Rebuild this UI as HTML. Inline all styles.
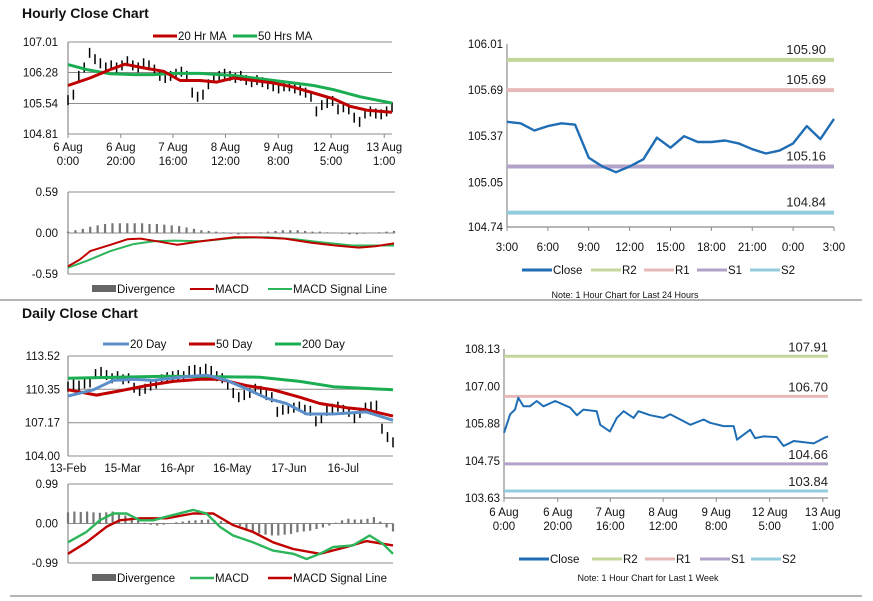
<!DOCTYPE html>
<html><head><meta charset="utf-8"><style>
html,body{margin:0;padding:0;background:#fff;}
svg{display:block;font-family:"Liberation Sans",Arial,sans-serif;}
</style></head><body>
<svg id="s" width="873" height="601" viewBox="0 0 873 601" xmlns="http://www.w3.org/2000/svg">
<text x="22" y="18" font-size="14" font-weight="bold" fill="#111">Hourly Close Chart</text>
<text x="22" y="318" font-size="14" font-weight="bold" fill="#111">Daily Close Chart</text>
<line x1="0" y1="300" x2="862" y2="300" stroke="#888" stroke-width="1.2"/>
<line x1="10" y1="596" x2="862" y2="596" stroke="#888" stroke-width="1.2"/>
</svg>
<script>
// ---------- DATA ----------
const hourlyCloses=[105.62,105.75,106.2,106.4,106.75,106.6,106.5,106.4,106.45,106.4,106.45,106.55,106.45,106.4,106.5,106.45,106.35,106.2,106.15,106.2,106.25,106.3,106.2,105.8,105.7,105.75,106.0,106.15,106.2,106.25,106.2,106.15,106.2,106.1,106.05,106.1,106.05,106.0,105.95,105.9,105.95,105.95,105.9,105.85,105.8,105.7,105.35,105.5,105.55,105.6,105.4,105.45,105.4,105.2,105.1,105.3,105.35,105.3,105.28,105.35,105.45];
const hourlyMA20T=[0,6.8,13,17.6,23.3,29.5,34.6,40.8,45.9,51.1,57.3,63.4,69.6,75.8,82,87.1,92.3,100];
const hourlyMA20V=[105.97,106.15,106.35,106.48,106.39,106.31,106.09,106.09,106.05,106.15,106.09,106.03,105.93,105.79,105.65,105.47,105.38,105.33];
const hourlyMA50T=[0,5.8,13,20.1,26.3,32.5,40.8,51.1,61.4,67.6,75.8,82,90.2,100];
const hourlyMA50V=[106.47,106.35,106.25,106.23,106.23,106.26,106.26,106.21,106.11,106.05,105.97,105.87,105.70,105.55];
const hourlyMacdT=[0,3.7,6.8,13,18.2,22.2,27.4,33.6,40.8,51.1,57.3,66.5,74.7,82,89.2,94.3,100];
const hourlyMacdV=[-0.48,-0.38,-0.26,-0.17,-0.09,-0.08,-0.12,-0.17,-0.12,-0.06,-0.06,-0.08,-0.14,-0.18,-0.21,-0.19,-0.15];
const hourlySigT=[0,5.8,13,20.1,26.3,32.5,40.8,51.1,61.4,69.6,76.8,87.1,100];
const hourlySigV=[-0.50,-0.40,-0.26,-0.16,-0.12,-0.11,-0.12,-0.07,-0.06,-0.09,-0.13,-0.18,-0.18];
const hourlyDiv=[0.02,0.04,0.06,0.09,0.11,0.13,0.14,0.14,0.14,0.14,0.14,0.13,0.13,0.12,0.11,0.10,0.08,0.06,0.04,0.03,0.02,0.01,-0.01,-0.02,-0.01,0.00,0.01,0.02,0.03,0.04,0.04,0.04,0.03,0.02,0.02,0.01,0.00,-0.01,-0.02,-0.02,-0.01,0.00,0.01,0.02,0.03];
const hourlyTicks=["6 Aug|0:00","6 Aug|20:00","7 Aug|16:00","8 Aug|12:00","9 Aug|8:00","12 Aug|5:00","13 Aug|1:00"];
const hourlyTickT=[0,16.3,32.4,48.6,64.9,81.2,97.6];

const dayCloses=[105.47,105.46,105.41,105.44,105.46,105.45,105.22,105.16,105.12,105.16,105.21,105.36,105.29,105.37,105.33,105.33,105.34,105.32,105.28,105.25,105.27,105.32,105.44,105.35,105.49];
const dayTicks=["3:00","6:00","9:00","12:00","15:00","18:00","21:00","0:00","3:00"];
const dayLevels=[105.90,105.69,105.16,104.84];

const dailyCloses=[110.6,110.8,110.7,110.9,111.0,111.8,112.0,111.7,111.4,111.6,111.3,111.4,110.5,110.2,110.4,110.7,110.9,111.3,111.5,111.6,111.7,111.6,112.1,112.2,112.0,112.3,112.1,111.6,111.4,110.8,110.0,109.6,109.8,110.0,110.4,110.2,109.8,109.6,108.2,108.4,108.5,108.6,108.7,108.4,108.3,107.3,107.6,108.3,108.5,108.7,108.4,108.2,107.6,108.1,108.6,108.7,108.8,106.6,105.8,105.3];
const dailyMA20T=[0,7.8,13.9,20.1,26.2,34.4,42.6,48.8,54.9,61.1,67.2,73.4,81.6,91.8,100];
const dailyMA20V=[109.7,110.3,111.2,111.3,111.2,111.5,111.7,111.2,110.4,109.5,109.0,108.0,108.0,108.2,107.4];
const dailyMA50T=[0,8.8,15.9,24.2,32.4,40.6,46.7,54.9,63.1,71.3,77.5,85.7,91.8,100];
const dailyMA50V=[110.3,109.8,110.2,110.7,111.1,111.3,111.3,110.7,110.3,109.6,109.0,108.6,108.4,107.8];
const dailyMA200T=[0,30.3,59,71.3,81.6,100];
const dailyMA200V=[111.4,111.6,111.5,111.1,110.6,110.3];
const dailyMacdT=[0,5.7,9.8,13.9,18,22.1,26.2,30.3,38.5,42.6,46.7,50.8,56.9,63.1,69.3,73.4,77.5,81.6,87.7,92.8,96.9,100];
const dailyMacdV=[-0.47,-0.21,0.08,0.25,0.25,0.08,0.08,0.17,0.34,0.25,-0.08,-0.30,-0.47,-0.68,-0.76,-0.89,-0.76,-0.59,-0.55,-0.30,-0.51,-0.76];
const dailySigT=[0,5.7,11.9,15.9,22.1,30.3,38.5,44.7,50.8,56.9,63.1,69.3,77.5,85.7,91.8,100];
const dailySigV=[-0.76,-0.47,-0.08,0.08,0.13,0.13,0.25,0.25,-0.04,-0.21,-0.47,-0.64,-0.76,-0.59,-0.44,-0.55];
const dailyDiv=[0.28,0.30,0.29,0.30,0.28,0.27,0.28,0.30,0.26,0.20,0.14,0.08,0.02,-0.03,-0.05,-0.03,0.00,0.03,0.05,0.07,0.08,0.09,0.10,0.08,0.06,0.04,0.00,-0.06,-0.14,-0.22,-0.25,-0.28,-0.30,-0.30,-0.28,-0.26,-0.22,-0.20,-0.18,-0.14,-0.10,-0.05,0.02,0.08,0.12,0.10,0.10,0.12,0.16,0.05,-0.10,-0.20];
const dailyTicks=["13-Feb","15-Mar","16-Apr","16-May","17-Jun","16-Jul"];
const dailyTickT=[0,16.8,33.7,50.5,68,84.7];

const weekT=[0,1.9,3.4,4.4,6,8,10.1,12.2,15.8,20.4,22.5,24.5,28.6,29.7,32.7,34.8,36.9,40,41.5,45.1,49.2,51.3,54.4,57.5,61.6,63.6,67.8,70.9,71.9,73.9,76,77.5,80.1,84.2,86.3,88.4,89.4,95.6,98.7,100];
const weekV=[105.6,106.16,106.3,106.66,106.4,106.4,106.56,106.4,106.56,106.36,106.13,106.3,106.25,105.84,105.64,106.05,106.25,106.05,106.25,106.13,106.05,106.16,106.0,105.84,106.0,105.9,105.8,105.8,105.39,105.54,105.69,105.44,105.49,105.47,105.2,105.3,105.35,105.28,105.44,105.49];
const weekLevels=[107.91,106.70,104.66,103.84];
const weekTicks=["6 Aug|0:00","6 Aug|20:00","7 Aug|16:00","8 Aug|12:00","9 Aug|8:00","12 Aug|5:00","13 Aug|1:00"];
const weekTickT=[0,16.6,32.8,49.1,65.5,82,98.4];

// ---------- HELPERS ----------
const S=document.getElementById('s');
const NS='http://www.w3.org/2000/svg';
function mk(tag,a){const e=document.createElementNS(NS,tag);for(const k in a)e.setAttribute(k,a[k]);S.appendChild(e);return e;}
function lin(d0,d1,p0,p1){return v=>p0+(v-d0)/(d1-d0)*(p1-p0);}
function pathD(ts,vs,xf,yf){return ts.map((t,i)=>(i?'L':'M')+xf(t).toFixed(1)+' '+yf(vs[i]).toFixed(1)).join(' ');}
function txt(x,y,s,size,anchor,fill){const e=mk('text',{x:x,y:y,'font-size':size,'text-anchor':anchor||'start',fill:fill||'#111'});e.textContent=s;return e;}
function yTicks(vals,yf,x,name){vals.forEach(v=>{const e=txt(x,yf(v)+4,v.toFixed(2),11.5,'end');

});}
function grid(vals,yf,x0,x1){vals.forEach(v=>{const e=mk('line',{x1:x0,x2:x1,y1:yf(v),y2:yf(v),stroke:'#8c8c8c','stroke-width':1});

});}
function legLine(x,y,w,col,th,label,name){const l=mk('line',{x1:x,x2:x+w,y1:y,y2:y,stroke:col,'stroke-width':th});


const t=txt(x+w+1,y+4,label,11.5,'start');

}
function xLabels(labels,ts,xf,y,name,tick){labels.forEach((s,i)=>{const x=xf(ts[i]);const parts=s.split('|');
if(tick){const k=mk('line',{x1:x,x2:x,y1:tick,y2:tick+4,stroke:'#888'});

}
parts.forEach((p,j)=>{const t=txt(x,y+j*14,p,11.5,'middle');

});});}
function series(ts,vs,xf,yf,col,w,name){const p=mk('path',{d:pathD(ts,vs,xf,yf),fill:'none',stroke:col,'stroke-width':w,'stroke-linejoin':'round'});

}
function bars(vals,xf,yf,half,name){vals.forEach((v,i)=>{const x=xf(i*100/(vals.length-1));
const b=mk('line',{x1:x,x2:x,y1:yf(v)-half,y2:yf(v)+half,stroke:'#000','stroke-width':1.5});

});}
function divBars(vals,xf,yf,name){vals.forEach((v,i)=>{const x=xf(i*100/(vals.length-1));
const b=mk('line',{x1:x,x2:x,y1:yf(0),y2:yf(v),stroke:'#777','stroke-width':2.2});

});}
function yAxis(x,y0,y1){const a=mk('line',{x1:x,x2:x,y1:y0,y2:y1,stroke:'#8c8c8c','stroke-width':1.2});

}

// ---------- HOURLY PRICE ----------
{const xf=lin(0,100,68,392), yf=lin(104.81,107.01,134,42);
grid([107.01,106.28,105.54,104.81],yf,68,392);yAxis(68,42,134);
yTicks([107.01,106.28,105.54,104.81],yf,58,'hourly-y-tick');
bars(hourlyCloses,xf,yf,5,'hourly-price-bar');
series(hourlyMA50T,hourlyMA50V,xf,yf,'#1aad52',3,'hourly-ma50-line');
series(hourlyMA20T,hourlyMA20V,xf,yf,'#c00000',3,'hourly-ma20-line');
xLabels(hourlyTicks,hourlyTickT,xf,151,'hourly-x-tick',134);
legLine(153,36,24,'#c00000',3,'20 Hr MA','legend-20hr-ma');
legLine(233,36,24,'#1aad52',3,'50 Hrs MA','legend-50hrs-ma');}
// ---------- HOURLY MACD ----------
{const xf=lin(0,100,68,394), yf=lin(-0.59,0.59,274,192);
grid([0.59,0.00,-0.59],yf,68,395);yAxis(68,192,274);
yTicks([0.59,0.00,-0.59],yf,58,'hourly-macd-y-tick');
divBars(hourlyDiv,xf,yf,'hourly-divergence-bar');
series(hourlySigT,hourlySigV,xf,yf,'#2cb55a',2,'hourly-macd-signal-line');
series(hourlyMacdT,hourlyMacdV,xf,yf,'#c00000',2,'hourly-macd-line');
const r=mk('rect',{x:92,y:285,width:24,height:7,fill:'#666'});


const t=txt(117,293,'Divergence',11.5);


legLine(190,289,24,'#c00000',2,'MACD','legend-macd');
legLine(268,289,24,'#2cb55a',2,'MACD Signal Line','legend-macd-signal');}
// ---------- DAY (24H) LEVELS ----------
{const xf=lin(0,24,507,834), yf=lin(104.74,106.01,227,44);
yAxis(507,44,227);
const ax=mk('line',{x1:507,x2:834,y1:227,y2:227,stroke:'#8c8c8c','stroke-width':1.2});


yTicks([106.01,105.69,105.37,105.05,104.74],yf,503,'day-y-tick');
const cols=['#c4d79b','#e6b9b8','#b3a2c7','#93cddd'], names=['r2','r1','s1','s2'];
dayLevels.forEach((v,i)=>{const l=mk('line',{x1:507,x2:834,y1:yf(v),y2:yf(v),stroke:cols[i],'stroke-width':4});


const t=txt(826,yf(v)-6,v.toFixed(2),13,'end','#222');

});
series(dayCloses.map((v,i)=>i),dayCloses,xf,yf,'#1f6db5',2.4,'day-close-line');
xLabels(dayTicks,dayTicks.map((s,i)=>i*3),xf,251,'day-x-tick',227);
legLine(522,270,30,'#1f6db5',3,'Close','legend-close');
legLine(591,270,30,'#c4d79b',3,'R2','legend-r2');
legLine(644,270,30,'#e6b9b8',3,'R1','legend-r1');
legLine(697,270,30,'#b3a2c7',3,'S1','legend-s1');
legLine(750,270,30,'#93cddd',3,'S2','legend-s2');
const n=txt(625,298,'Note: 1 Hour Chart for Last 24 Hours',9,'middle');

}
// ---------- DAILY PRICE ----------
{const xf=lin(0,100,68,393), yf=lin(104.00,113.52,456,356);
grid([113.52,110.35,107.17,104.00],yf,68,393);yAxis(68,356,456);
yTicks([113.52,110.35,107.17,104.00],yf,60,'daily-y-tick');
bars(dailyCloses,xf,yf,5,'daily-price-bar');
series(dailyMA200T,dailyMA200V,xf,yf,'#1aad52',3,'daily-ma200-line');
series(dailyMA50T,dailyMA50V,xf,yf,'#c00000',3,'daily-ma50-line');
series(dailyMA20T,dailyMA20V,xf,yf,'#5b8fc9',3,'daily-ma20-line');
xLabels(dailyTicks,dailyTickT,xf,472,'daily-x-tick',null);
legLine(103,344,26,'#5b8fc9',3,'20 Day','legend-20-day');
legLine(189,344,26,'#c00000',3,'50 Day','legend-50-day');
legLine(275,344,26,'#1aad52',3,'200 Day','legend-200-day');}
// ---------- DAILY MACD ----------
{const xf=lin(0,100,68,393), yf=lin(-0.99,0.99,563,484);
grid([0.99,0.00,-0.99],yf,68,393);yAxis(68,484,563);
yTicks([0.99,0.00,-0.99],yf,58,'daily-macd-y-tick');
divBars(dailyDiv,xf,yf,'daily-divergence-bar');
series(dailySigT,dailySigV,xf,yf,'#c00000',2.4,'daily-macd-signal-line');
series(dailyMacdT,dailyMacdV,xf,yf,'#2cb55a',2.4,'daily-macd-line');
const r=mk('rect',{x:92,y:574,width:24,height:7,fill:'#666'});


const t=txt(117,582,'Divergence',11.5);


legLine(190,578,24,'#2cb55a',2.4,'MACD','legend-daily-macd');
legLine(268,578,24,'#c00000',2.4,'MACD Signal Line','legend-daily-macd-signal');}
// ---------- WEEK LEVELS ----------
{const xf=lin(0,100,504,828), yf=lin(103.63,108.13,498,349);
yAxis(504,349,498);
const ax=mk('line',{x1:504,x2:828,y1:498,y2:498,stroke:'#8c8c8c','stroke-width':1.2});


yTicks([108.13,107.00,105.88,104.75,103.63],yf,500,'week-y-tick');
const cols=['#c4d79b','#e6b9b8','#b3a2c7','#93cddd'], names=['r2','r1','s1','s2'];
weekLevels.forEach((v,i)=>{const l=mk('line',{x1:504,x2:828,y1:yf(v),y2:yf(v),stroke:cols[i],'stroke-width':3});


const t=txt(828,yf(v)-5,v.toFixed(2),13,'end','#222');

});
series(weekT,weekV,xf,yf,'#1f6db5',2,'week-close-line');
xLabels(weekTicks,weekTickT,xf,516,'week-x-tick',498);
legLine(519,559,30,'#1f6db5',3,'Close','legend-week-close');
legLine(592,559,30,'#c4d79b',3,'R2','legend-week-r2');
legLine(645,559,30,'#e6b9b8',3,'R1','legend-week-r1');
legLine(700,559,30,'#b3a2c7',3,'S1','legend-week-s1');
legLine(751,559,30,'#93cddd',3,'S2','legend-week-s2');
const n=txt(648,581,'Note: 1 Hour Chart for Last 1 Week',9,'middle');

}
</script>
</body></html>
